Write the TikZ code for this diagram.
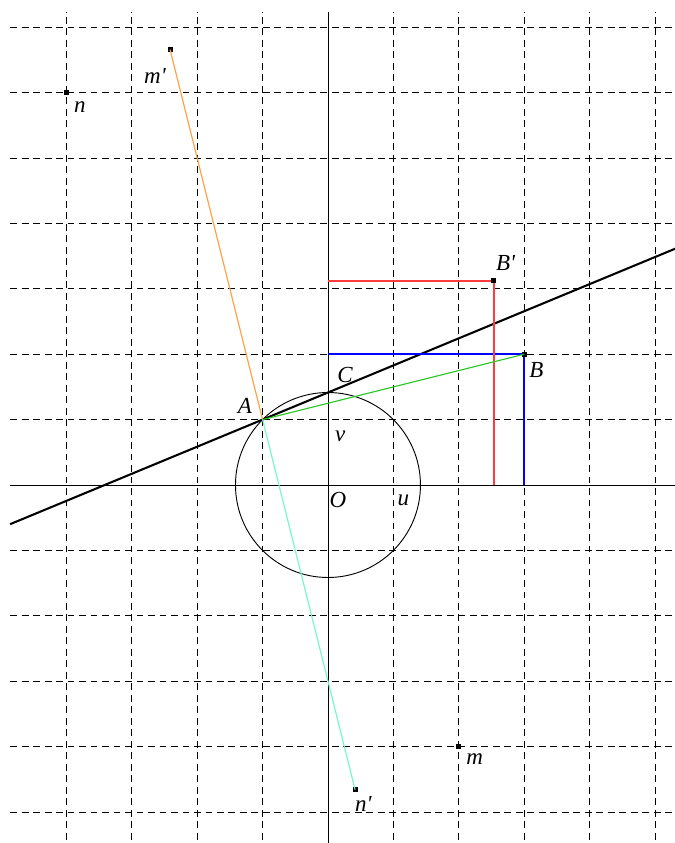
\documentclass[tikz,border=0pt]{standalone}
\usepackage{fontspec}
\setmainfont{Liberation Serif}
\definecolor{segorange}{RGB}{255,160,70}
\definecolor{segaqua}{RGB}{110,250,200}
\definecolor{seggreen}{RGB}{40,200,40}
\definecolor{segred}{RGB}{255,60,60}
\definecolor{segblue}{RGB}{0,0,255}

\begin{document}
\begin{tikzpicture}[every node/.style={font=\itshape},
  pt/.style={fill=black,inner sep=0pt,minimum size=2.2pt},
  gridline/.style={line width=0.4pt,dash pattern=on 3pt off 2pt}]
  \useasboundingbox (-5.015,-5.474) rectangle (5.306,7.416);
  \clip (-5.015,-5.474) rectangle (5.306,7.416);
  % grid
  \foreach \x in {-4,...,-1,1,2,...,5}
    \draw[gridline] (\x,-5.6) -- (\x,7.23);
  \foreach \y in {-5,...,-1,1,2,...,7}
    \draw[gridline] (-4.86,\y) -- (5.5,\y);
  % axes
  \draw[line width=0.4pt] (-4.86,0) -- (5.5,0);
  \draw[line width=0.4pt] (0,-5.6) -- (0,7.23);
  % points
  \coordinate (O) at (0,0);
  \coordinate (A) at (-1,1);
  \coordinate (C) at (0,1.4142);
  \coordinate (Bx) at (3,0);
  \coordinate (By) at (0,2);
  \coordinate (Bpx) at (2.5355,0);
  \coordinate (Bpy) at (0,3.1213);
  \coordinate (L1) at (-4.86,-0.5989);
  \coordinate (L2) at (5.5,3.6924);
  \draw[line width=0.4pt] (O) circle ({sqrt(2)});
  \draw[line width=0.9pt] (L1) -- (L2);
  \draw[segblue, line width=0.7pt] (By) -- (3,2) -- (Bx);
  \draw[segred, line width=0.7pt] (Bpy) -- (2.5355,3.1213) -- (Bpx);
  \node[pt] (B) at (3,2) {};
  \node[pt] (Bp) at (2.5355,3.1213) {};
  \node[pt] (m) at (2,-4) {};
  \node[pt] (mp) at (-2.4142,6.6569) {};
  \node[pt] (n) at (-4,6) {};
  \node[pt] (np) at (0.4142,-4.6569) {};
  \draw[seggreen, line width=0.5pt] (A) -- (B.center);
  \draw[segorange, line width=0.5pt] (A) -- (mp.center);
  \draw[segaqua, line width=0.5pt] (A) -- (np.center);
  % labels
  \node (Albl) at (-1.269,1.213) {A};
  \node (Blbl) at (3.185,1.763) {B};
  \node (Bplbl) at (2.717,3.390) {B\textquotesingle};
  \node (Clbl) at (0.260,1.682) {C};
  \node (Olbl) at (0.153,-0.229) {O};
  \node (ulbl) at (1.152,-0.240) {u};
  \node (vlbl) at (0.188,0.739) {v};
  \node (mlbl) at (2.243,-4.190) {m};
  \node (mplbl) at (-2.645,6.254) {m\textquotesingle};
  \node (nlbl) at (-3.792,5.780) {n};
  \node (nplbl) at (0.540,-4.878) {n\textquotesingle};
\end{tikzpicture}
\end{document}
